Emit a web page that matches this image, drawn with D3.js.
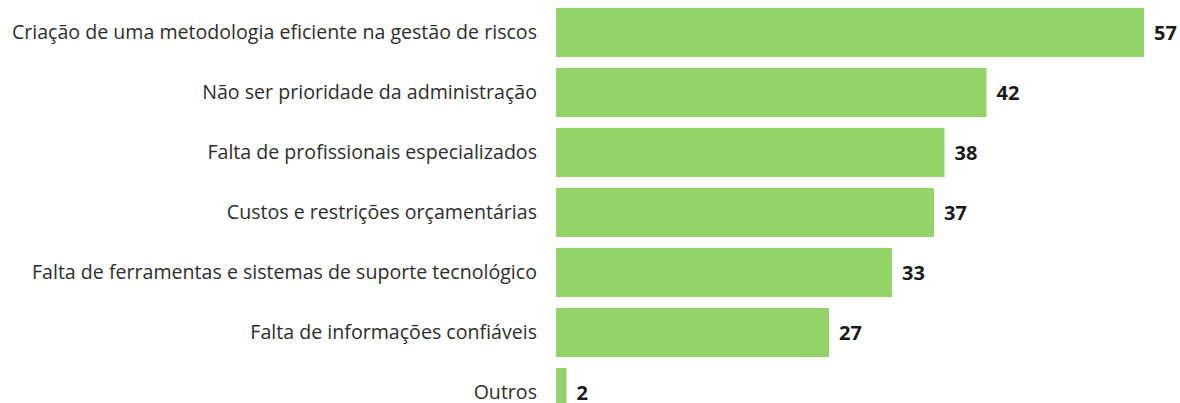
<!DOCTYPE html>
<html>
<head>
<meta charset="utf-8">
<script src="https://cdn.jsdelivr.net/npm/d3@7"></script>
<style>
  body { margin: 0; background: #fff; }
  text { font-family: 'Open Sans', sans-serif; }
</style>
</head>
<body>
<svg width="1180" height="403"></svg>
<script>
const categories = [
    'Criação de uma metodologia eficiente na gestão de riscos',
    'Não ser prioridade da administração',
    'Falta de profissionais especializados',
    'Custos e restrições orçamentárias',
    'Falta de ferramentas e sistemas de suporte tecnológico',
    'Falta de informações confiáveis',
    'Outros'
];
const values = [57, 42, 38, 37, 33, 27, 2];

const svg = d3.select('svg'),
    barLeft = 556;

const x = d3.scaleLinear()
    .domain([0, 57])
    .range([545.5, 1144]);

const y = d3.scaleBand()
    .domain(categories)
    .range([2.5, 422.5])
    .paddingInner(0.18)
    .paddingOuter(0.09);

const g = svg.append('g');

g.selectAll('rect')
    .data(values)
    .enter()
    .append('rect')
    .attr('x', barLeft)
    .attr('y', (d, i) => y(categories[i]))
    .attr('width', d => x(d) - barLeft)
    .attr('height', y.bandwidth())
    .attr('fill', '#93d36a');

// category labels
g.selectAll('.cat')
    .data(categories)
    .enter()
    .append('text')
    .attr('class', 'cat')
    .attr('x', 537)
    .attr('y', d => y(d) + y.bandwidth() / 2)
    .attr('dy', '0.35em')
    .attr('text-anchor', 'end')
    .attr('font-size', 19.6)
    .attr('fill', '#2e2e2e')
    .text(d => d);

// value labels
g.selectAll('.val')
    .data(values)
    .enter()
    .append('text')
    .attr('class', 'val')
    .attr('x', d => x(d) + 10)
    .attr('y', (d, i) => y(categories[i]) + y.bandwidth() / 2)
    .attr('dy', '0.35em')
    .attr('font-size', 20)
    .attr('font-weight', 'bold')
    .attr('fill', '#1a1a1a')
    .text(d => d);
</script>
</body>
</html>
